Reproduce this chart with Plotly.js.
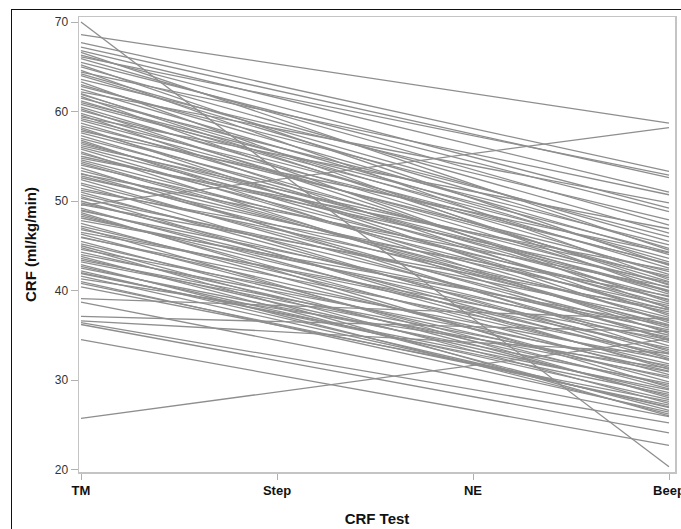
<!DOCTYPE html>
<html>
<head>
<meta charset="utf-8">
<script src="https://cdn.plot.ly/plotly-3.0.1.min.js"></script>
<style>
html,body{margin:0;padding:0;background:#fff;overflow:hidden;}
#wrap{position:relative;width:681px;height:529px;}
#chart{position:absolute;left:0;top:0;width:681px;height:529px;}
#frame{position:absolute;left:11px;top:9px;width:700px;height:600px;border-top:1.5px solid #111;border-left:1.5px solid #111;pointer-events:none;}
</style>
</head>
<body>
<div id="wrap"><div id="chart"></div><div id="frame"></div></div>
<script>
const categories = ['TM', 'Step', 'NE', 'Beep'];
const yTicks = [20, 30, 40, 50, 60, 70];

// CRF at TM (start) and Beep (end) for each participant
const tmValues = [
  70.0, 68.6, 67.7, 67.2, 66.8, 66.3, 66.1, 65.9, 65.5, 65.0,
  64.4, 64.2, 64.0, 63.6, 63.0, 62.8, 62.5, 62.2, 61.9, 61.5,
  61.2, 61.0, 60.8, 60.5, 60.1, 59.8, 59.4, 59.0, 58.7, 58.4,
  58.0, 57.6, 57.3, 57.0, 56.6, 56.2, 56.0, 55.8, 55.3, 55.0,
  54.6, 54.2, 54.0, 53.4, 53.1, 52.8, 52.6, 52.4, 52.0, 51.4,
  51.0, 50.7, 50.3, 50.0, 49.8, 49.5, 49.2, 49.0, 48.9, 48.5,
  48.3, 48.1, 47.5, 47.2, 46.8, 46.3, 46.0, 45.9, 45.5, 45.2,
  45.0, 44.3, 44.0, 43.8, 43.6, 43.2, 42.9, 42.7, 42.5, 42.2,
  41.9, 41.6, 41.0, 40.4, 39.1, 38.7, 37.1, 36.6, 36.4, 36.2,
  34.5, 25.7,
  66.6, 65.2, 64.6, 63.3, 62.0, 61.7, 60.3, 59.6, 59.2, 58.2,
  57.8, 56.8, 56.4, 55.5, 54.8, 54.4, 53.7, 53.0, 51.8, 51.2,
  50.5, 49.6, 48.7, 47.8, 47.0, 46.5, 44.8, 44.6, 43.4, 42.0,
  41.3, 40.8
];
const beepValues = [
  20.3, 58.7, 53.3, 52.6, 51.0, 49.2, 52.9, 47.3, 48.8, 46.4,
  50.7, 45.5, 44.7, 47.9, 44.0, 46.0, 43.2, 49.8, 42.5, 45.1,
  41.8, 44.3, 43.6, 41.0, 42.9, 40.3, 46.9, 41.4, 39.6, 42.1,
  38.9, 40.7, 38.1, 40.0, 37.4, 41.6, 39.3, 36.6, 38.5, 40.9,
  37.8, 35.8, 39.0, 37.0, 34.6, 36.2, 38.3, 33.8, 35.4, 37.6,
  33.0, 35.0, 36.8, 32.2, 34.2, 58.2, 31.4, 33.4, 35.6, 30.6,
  32.6, 34.8, 29.8, 31.8, 33.6, 29.0, 31.0, 32.9, 28.2, 30.2,
  27.4, 29.4, 31.6, 26.6, 28.6, 30.4, 26.2, 27.8, 29.6, 26.9,
  28.9, 27.0, 26.4, 27.6, 36.8, 25.9, 35.4, 33.0, 25.2, 24.1,
  22.7, 34.6,
  44.5, 42.8, 41.2, 39.8, 40.6, 38.0, 38.7, 37.2, 43.0, 36.4,
  44.2, 35.2, 39.9, 34.4, 42.3, 36.0, 33.2, 40.4, 32.4, 39.4,
  31.2, 37.9, 29.2, 36.1, 28.0, 34.5, 26.0, 32.3, 30.9, 28.4,
  31.3, 27.2
];

const traces = tmValues.map((v, i) => ({
  type: 'scatter',
  mode: 'lines',
  x: [categories[0], categories[3]],
  y: [v, beepValues[i]],
  line: {color: '#8e8e8e', width: 1.3},
  hoverinfo: 'skip',
  showlegend: false
}));

const layout = {
  width: 681,
  height: 529,
  margin: {l: 79, r: 6, t: 17, b: 57, pad: 0},
  paper_bgcolor: '#ffffff',
  plot_bgcolor: '#ffffff',
  font: {family: 'Liberation Sans, Arial, sans-serif', color: '#222'},
  xaxis: {
    type: 'category',
    categoryorder: 'array',
    categoryarray: categories,
    range: [-0.0102, 3.0306],
    showgrid: false,
    zeroline: false,
    showline: true,
    linecolor: '#c4c4c4',
    linewidth: 1.5,
    mirror: true,
    ticks: 'outside',
    ticklen: 6,
    tickcolor: '#b0b0b0',
    tickwidth: 1,
    tickfont: {family: 'Liberation Sans, Arial, sans-serif', size: 13, color: '#111', weight: 'bold'},
    title: {text: 'CRF Test', font: {family: 'Liberation Sans, Arial, sans-serif', size: 15, color: '#111', weight: 'bold'}, standoff: 16}
  },
  yaxis: {
    range: [19.72, 70.56],
    tickvals: yTicks,
    showgrid: false,
    zeroline: false,
    showline: true,
    linecolor: '#c4c4c4',
    linewidth: 1.5,
    mirror: true,
    ticks: 'outside',
    ticklen: 7,
    tickcolor: '#b0b0b0',
    tickwidth: 1,
    tickfont: {family: 'Liberation Sans, Arial, sans-serif', size: 12, color: '#333'},
    title: {text: 'CRF (ml/kg/min)', font: {family: 'Liberation Sans, Arial, sans-serif', size: 15, color: '#111', weight: 'bold'}, standoff: 14}
  }
};

Plotly.newPlot('chart', traces, layout, {displayModeBar: false, staticPlot: true});
</script>
</body>
</html>
